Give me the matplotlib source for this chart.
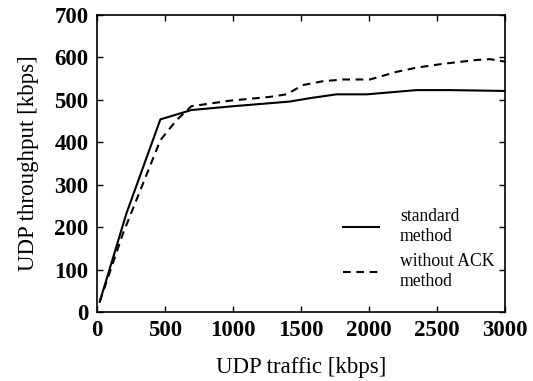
import matplotlib
matplotlib.use("Agg")
import matplotlib.pyplot as plt

std_x = [20, 216, 466, 694, 1000, 1418, 1565, 1761, 1982, 2350, 2595, 3000]
std_y = [24, 232, 454, 476, 485, 496, 504, 513, 513, 523, 523, 521]

ack_x = [20, 191, 466, 584, 694, 976, 1271, 1393, 1516, 1663, 1810, 2006, 2203, 2350, 2546, 2791, 2890, 3000]
ack_y = [24, 185, 405, 452, 485, 498, 507, 513, 535, 544, 548, 548, 566, 576, 585, 594, 596, 590]

xticks = [0, 500, 1000, 1500, 2000, 2500, 3000]
yticks = [0, 100, 200, 300, 400, 500, 600, 700]

plt.rcParams['font.family'] = ['Liberation Serif', 'DejaVu Serif']

fig = plt.figure(figsize=(5.33, 3.81), dpi=100)
ax = fig.add_axes([97/533, 1 - 312/381, (505-97)/533, (312-15)/381])

ax.plot(std_x, std_y, color='black', lw=1.5, ls='-', label='standard\nmethod')
ax.plot(ack_x, ack_y, color='black', lw=1.5, ls=(0, (3.7, 2.7)), label='without ACK\nmethod')

ax.set_xlim(0, 3000)
ax.set_ylim(0, 700)
ax.set_xticks(xticks)
ax.set_yticks(yticks)
ax.set_xticklabels([str(v) for v in xticks], fontsize=16.5, fontweight='bold')
ax.set_yticklabels([str(v) for v in yticks], fontsize=16.5, fontweight='bold')
ax.tick_params(direction='in', top=True, right=True, length=4, width=1)
ax.tick_params(axis='x', pad=6)
ax.tick_params(axis='y', pad=6)
for s in ax.spines.values():
    s.set_linewidth(1.2)

ax.set_xlabel('UDP traffic [kbps]', fontsize=16.5, labelpad=11)
ax.set_ylabel('UDP throughput [kbps]', fontsize=16.5, labelpad=11)

leg = ax.legend(loc='lower right', bbox_to_anchor=(1.0, 0.04), frameon=False,
                fontsize=12.7, handlelength=2.0, handletextpad=1.2,
                labelspacing=0.45, borderaxespad=0.2)

fig.savefig('out.png', dpi=100)
